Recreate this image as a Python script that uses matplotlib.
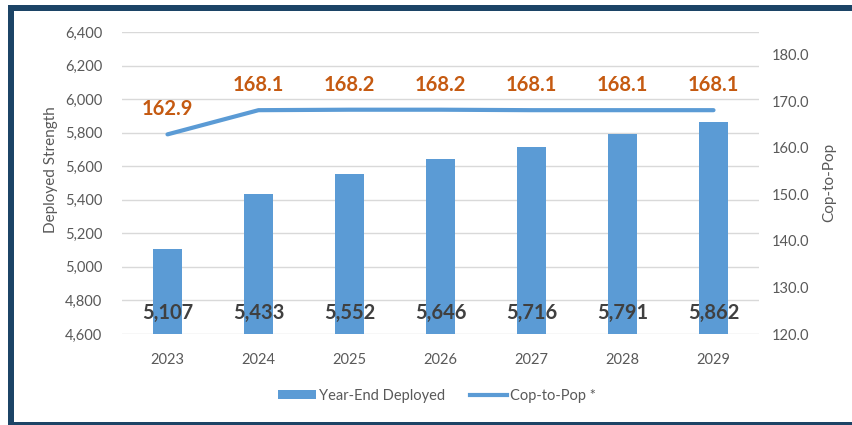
import matplotlib
matplotlib.use("Agg")
import matplotlib.pyplot as plt
from matplotlib.patches import Rectangle, Patch
from matplotlib.lines import Line2D
import numpy as np

plt.rcParams['font.family'] = ['Lato', 'DejaVu Sans']

years = ["2023", "2024", "2025", "2026", "2027", "2028", "2029"]
deployed = [5107, 5433, 5552, 5646, 5716, 5791, 5862]
cop_to_pop = [162.9, 168.1, 168.2, 168.2, 168.1, 168.1, 168.1]
left_ticks = [4600, 4800, 5000, 5200, 5400, 5600, 5800, 6000, 6200, 6400]
right_ticks = [120, 130, 140, 150, 160, 170, 180]

W, H = 852, 425
fig = plt.figure(figsize=(W / 100, H / 100), dpi=100)
fig.patch.set_facecolor("white")

bar_color = "#5B9BD5"
grid_color = "#D9D9D9"
tick_color = "#595959"
orange = "#C55A11"
border = "#1C4466"

ax = fig.add_axes([122 / W, 1 - 334 / H, (759 - 122) / W, (334 - 32) / H])
x = np.arange(len(years))
ax.bar(x, deployed, width=0.31, color=bar_color, zorder=2)
ax.set_ylim(4600, 6400)
ax.set_xlim(-0.5, len(years) - 0.5)
ax.set_yticks(left_ticks)
ax.set_yticklabels([f"{v:,}" for v in left_ticks])
ax.set_xticks(x)
ax.set_xticklabels(years)
ax.grid(axis="y", color=grid_color, linewidth=1, zorder=0)
for s in ax.spines.values():
    s.set_visible(False)
ax.tick_params(axis="both", length=0, labelsize=10.5, colors=tick_color)
ax.tick_params(axis="y", pad=14)
ax.tick_params(axis="x", pad=14)
ax.set_ylabel("Deployed Strength", fontsize=11, color=tick_color)
ax.yaxis.set_label_coords(-0.100, 0.543)

for xi, v in zip(x, deployed):
    ax.text(xi, 4725, f"{v:,}", ha="center", va="center", fontsize=14.5,
            fontweight="bold", color="#404040", zorder=4)

ax2 = ax.twinx()
ax2.plot(x, cop_to_pop, color=bar_color, linewidth=3, zorder=3,
         solid_capstyle="round")
ax2.set_ylim(120, 184.9)
ax2.set_yticks(right_ticks)
ax2.set_yticklabels([f"{v:.1f}" for v in right_ticks])
for s in ax2.spines.values():
    s.set_visible(False)
ax2.tick_params(axis="y", length=0, labelsize=10.5, colors=tick_color, pad=9)
ax2.set_ylabel("Cop-to-Pop", fontsize=11, color=tick_color)
ax2.yaxis.set_label_coords(1.099, 0.503)

for xi, v in zip(x, cop_to_pop):
    ax2.annotate(f"{v:.1f}", (xi, v), xytext=(0, 25), textcoords="offset pixels",
                 ha="center", va="center", fontsize=14.5, fontweight="bold",
                 color=orange)

handles = [Patch(facecolor=bar_color, edgecolor="none"),
           Line2D([0], [0], color=bar_color, linewidth=3)]
fig.legend(handles, ["Year-End Deployed", "Cop-to-Pop *"], loc="center",
           bbox_to_anchor=(437 / W, 1 - 396 / H), ncol=2, frameon=False,
           fontsize=10.5, labelcolor=tick_color, handlelength=2.6,
           handletextpad=0.2, columnspacing=1.7, handleheight=0.6)

# frame border
def frect(x0, y0, x1, y1, color):
    fig.add_artist(Rectangle((x0 / W, 1 - y1 / H), (x1 - x0) / W, (y1 - y0) / H,
                             transform=fig.transFigure, facecolor=color,
                             edgecolor="none", zorder=10))

frect(8, 5, 13.5, 425, border)
frect(8, 5, 852, 11, border)
frect(8, 422, 852, 425, border)

fig.savefig("out.png", dpi=100, facecolor="white")
